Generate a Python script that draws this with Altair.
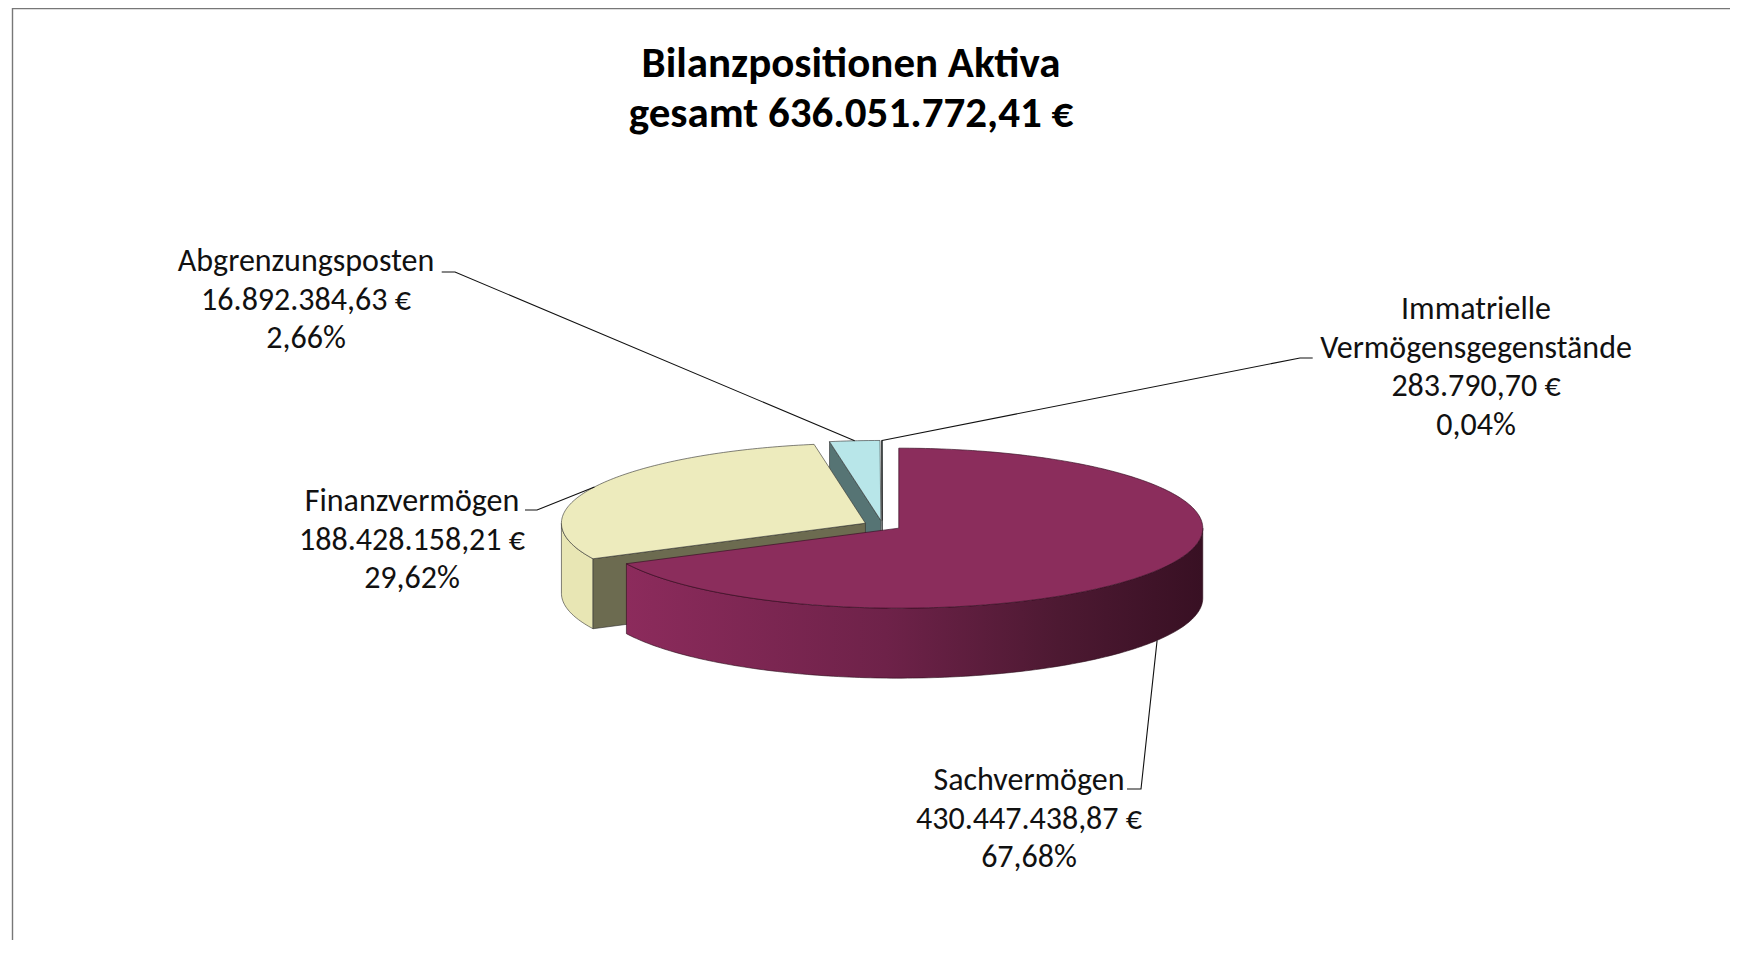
import math
import altair as alt

# ---------------- data ----------------
categories = ["Sachvermögen", "Finanzvermögen", "Abgrenzungsposten",
              "Immatrielle Vermögensgegenstände"]
values = [430447438.87, 188428158.21, 16892384.63, 283790.70]
percents = [67.68, 29.62, 2.66, 0.04]
label_lines = [["Sachvermögen"], ["Finanzvermögen"], ["Abgrenzungsposten"],
               ["Immatrielle", "Vermögensgegenstände"]]
title_lines = ["Bilanzpositionen Aktiva", "gesamt {total} €"]

# colours per slice: top face, outer wall, radial cut face
top_colors = ["#8B2D5C", "#EDEBBD", "#B8E6E9", "#4F6B6C"]
wall_colors = ["#6E2249", "#E8E6B4", "#5A7878", "#3F5A5A"]
face_colors = ["#5A1B3C", "#6C6B50", "#567474", "#3F5A5A"]
sach_wall_stops = [(0.0, "#8C2B5C"), (0.45, "#6E2249"), (0.75, "#4D1932"), (1.0, "#381023")]

# ---------------- layout (page pixels) ----------------
OFF = 8
CX, CY = 882.5, 525.5
RX, RY, DEPTH = 304.0, 80.0, 70.0
EXPLODE = 0.063
LINE_H = 38.5
label_anchor = [(1029, 790), (412, 511), (306, 271), (1476, 319)]
underline = [(1127, 1141, 789), (525, 537, 510), (441.7, 455, 272), (1312.7, 1300, 358)]
title_anchor = (851, 77)
TITLE_H = 50
FONT = "Carlito, Lato, sans-serif"
LABEL_SIZE = 32
TITLE_SIZE = 43


def de(v):
    s = f"{v:,.2f}"
    return s.replace(",", "X").replace(".", ",").replace("X", ".")


total = sum(values)
fracs = [v / total for v in values]
starts, ends = [], []
acc = 0.0
for f in fracs:
    starts.append(acc * 360.0)
    acc += f
    ends.append(acc * 360.0)


def vertex(i):
    mid = math.radians((starts[i] + ends[i]) / 2)
    return (CX + EXPLODE * RX * math.sin(mid), CY - EXPLODE * RY * math.cos(mid))


def arcpt(v, deg, dy=0.0):
    t = math.radians(deg)
    return [v[0] + RX * math.sin(t), v[1] - RY * math.cos(t) + dy]


def arc(v, a0, a1, dy=0.0, step=1.0):
    n = max(2, int(abs(a1 - a0) / step) + 1)
    return [arcpt(v, a0 + (a1 - a0) * k / (n - 1), dy) for k in range(n)]


def poly(coords, fill, order):
    ring = coords + [coords[0]]
    return {"type": "Feature", "geometry": {"type": "Polygon", "coordinates": [ring]},
            "properties": {"fill": fill, "order": order}}


def line(coords):
    return {"type": "Feature", "geometry": {"type": "LineString", "coordinates": coords},
            "properties": {}}


def top_face(i):
    v = vertex(i)
    return [list(v)] + arc(v, starts[i], ends[i])


def wall(i):
    v = vertex(i)
    a0, a1 = max(starts[i], 90.0), min(ends[i], 270.0)
    if a1 <= a0:
        return None
    return arc(v, a0, a1) + arc(v, a1, a0, DEPTH)


def start_face(i):
    v = vertex(i)
    p = arcpt(v, starts[i])
    return [list(v), p, [p[0], p[1] + DEPTH], [v[0], v[1] + DEPTH]]


# painter's order: back slices first
back = []
k = 0
for i in [2, 3, 1]:
    w = wall(i)
    if w:
        back.append(poly(w, wall_colors[i], k)); k += 1
    back.append(poly(start_face(i), face_colors[i], k)); k += 1
    back.append(poly(top_face(i), top_colors[i], k)); k += 1

sach_wall = [poly(wall(0), wall_colors[0], 0)]
sach_top = [poly(top_face(0), top_colors[0], 0)]

# leader lines, ending on each slice at its mid angle
leaders = []
for i in range(4):
    v = vertex(i)
    mid = (starts[i] + ends[i]) / 2
    dy = DEPTH if 90 < mid < 270 else 0.0
    end = arcpt(v, mid, dy)
    u0, u1, uy = underline[i]
    leaders.append(line([[u0, uy], [u1, uy], end]))

frame = [line([[12.5, 960], [12.5, 8.6], [1745, 8.6]])]

# texts
text_rows = []
for i in range(4):
    x, y = label_anchor[i]
    lines = label_lines[i] + [de(values[i]) + " €", f"{percents[i]:.2f}".replace(".", ",") + "%"]
    for j, t in enumerate(lines):
        text_rows.append({"x": x, "y": y + j * LINE_H, "t": t})

title_rows = []
for j, t in enumerate(title_lines):
    title_rows.append({"x": title_anchor[0], "y": title_anchor[1] + j * TITLE_H,
                       "t": t.format(total=de(total))})

proj = dict(type="identity", scale=1, translate=[-OFF, -OFF])

frame_layer = alt.Chart(alt.Data(values=frame)).mark_geoshape(
    filled=False, stroke="#777777", strokeWidth=1.4).project(**proj)

back_layer = alt.Chart(alt.Data(values=back)).mark_geoshape(
    stroke="#2e2e2e", strokeWidth=0.7, strokeOpacity=0.85
).encode(fill=alt.Fill("properties.fill:N", scale=None)).project(**proj)

wall_layer = alt.Chart(alt.Data(values=sach_wall)).mark_geoshape(
    fill=alt.LinearGradient(gradient="linear",
                            stops=[alt.GradientStop(offset=o, color=c) for o, c in sach_wall_stops],
                            x1=0, x2=1, y1=0, y2=0),
    stroke="#2a0c1a", strokeWidth=0.7, strokeOpacity=0.85).project(**proj)

top_layer = alt.Chart(alt.Data(values=sach_top)).mark_geoshape(
    stroke="#3a0f25", strokeWidth=0.8, strokeOpacity=0.85
).encode(fill=alt.Fill("properties.fill:N", scale=None)).project(**proj)

leader_layer = alt.Chart(alt.Data(values=leaders)).mark_geoshape(
    filled=False, stroke="#111111", strokeWidth=1.1).project(**proj)

label_layer = alt.Chart(alt.Data(values=text_rows)).mark_text(
    font=FONT, fontSize=LABEL_SIZE, align="center", baseline="alphabetic", color="#111111"
).encode(longitude="x:Q", latitude="y:Q", text="t:N").project(**proj)

title_layer = alt.Chart(alt.Data(values=title_rows)).mark_text(
    font=FONT, fontSize=TITLE_SIZE, fontWeight="bold", align="center", baseline="alphabetic",
    color="#000000"
).encode(longitude="x:Q", latitude="y:Q", text="t:N").project(**proj)

chart = alt.layer(
    frame_layer, back_layer, wall_layer, top_layer, leader_layer, label_layer, title_layer
).properties(
    width=1722, height=932, autosize=alt.AutoSizeParams(type="none"), padding=0
).configure_view(stroke=None).configure(background="white")

chart.save("out.html", embed_options={"renderer": "svg", "actions": False})
